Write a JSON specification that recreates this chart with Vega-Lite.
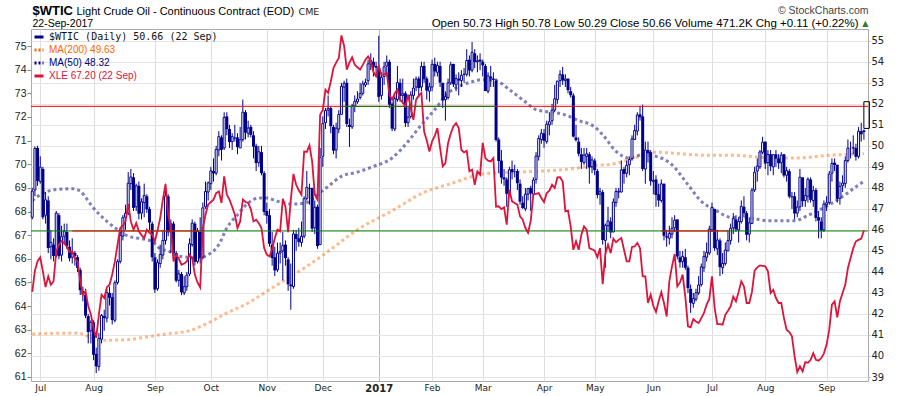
{
"$schema":"https://vega.github.io/schema/vega-lite/v6.json",
"width":837,"height":352,
"autosize":{"type":"none"},
"padding":{"left":31,"top":29,"right":32,"bottom":15},
"background":"white",
"config":{"view":{"stroke":"#a8a8a8"},"axis":{"labelOverlap":false,"labelSeparation":0}},
"datasets":{
"segG":[{"d1":"2016-12-12","d2":"2017-03-08","y":51.88}],
"segR":[{"d1":"2016-07-20","d2":"2016-09-27","y":45.95},{"d1":"2017-06-06","d2":"2017-07-12","y":45.95}],
"p":[
{"d":"2016-06-28","o":46.6,"h":48.0,"l":46.5,"c":47.85,"e":64.6,"a":47.39,"b":41.05},
{"d":"2016-06-29","o":47.9,"h":49.97,"l":47.6,"c":49.88,"e":65.5},
{"d":"2016-06-30","o":49.9,"h":50.0,"l":48.1,"c":48.33,"e":65.9},
{"d":"2016-07-01","o":48.3,"h":49.5,"l":48.2,"c":48.99,"e":66.06},
{"d":"2016-07-05","o":48.9,"h":49.0,"l":46.5,"c":46.6,"e":65.47},
{"d":"2016-07-06","o":46.7,"h":47.8,"l":46.3,"c":47.43,"e":64.8,"a":47.8},
{"d":"2016-07-07","o":47.4,"h":47.6,"l":44.9,"c":45.14,"e":65.26},
{"d":"2016-07-08","o":45.2,"h":46.0,"l":44.6,"c":45.41,"e":64.9},
{"d":"2016-07-11","o":45.3,"h":45.6,"l":44.5,"c":44.76,"e":65.05},
{"d":"2016-07-12","o":44.8,"h":46.9,"l":44.7,"c":46.8,"e":66.3},
{"d":"2016-07-13","o":46.7,"h":46.8,"l":44.6,"c":44.75,"e":66.6,"a":47.93,"b":41.08},
{"d":"2016-07-14","o":44.8,"h":46.2,"l":44.5,"c":45.68,"e":66.74},
{"d":"2016-07-15","o":45.7,"h":46.3,"l":45.3,"c":45.95,"e":66.67},
{"d":"2016-07-18","o":45.9,"h":46.3,"l":45.1,"c":45.24,"e":66.5},
{"d":"2016-07-19","o":45.2,"h":45.5,"l":44.5,"c":44.65,"e":66.29},
{"d":"2016-07-20","o":44.7,"h":45.6,"l":44.4,"c":44.94,"e":66.31,"a":47.96},
{"d":"2016-07-21","o":44.9,"h":45.0,"l":44.3,"c":44.75,"e":66.0},
{"d":"2016-07-22","o":44.7,"h":44.8,"l":44.0,"c":44.19,"e":65.89,"b":41.09},
{"d":"2016-07-25","o":44.1,"h":44.2,"l":42.9,"c":43.13,"e":65.05,"a":47.85},
{"d":"2016-07-26","o":43.1,"h":43.3,"l":42.6,"c":42.92,"e":64.48},
{"d":"2016-07-27","o":42.9,"h":43.2,"l":41.8,"c":41.92,"e":64.62,"a":47.55},
{"d":"2016-07-28","o":41.9,"h":42.0,"l":40.6,"c":41.14,"e":64.0},
{"d":"2016-07-29","o":41.2,"h":41.7,"l":40.6,"c":41.6,"e":63.64,"b":40.89},
{"d":"2016-08-01","o":41.6,"h":41.7,"l":39.8,"c":40.06,"e":63.07,"a":47.04},
{"d":"2016-08-02","o":40.1,"h":40.4,"l":39.19,"c":39.51,"e":62.65},
{"d":"2016-08-03","o":39.5,"h":41.1,"l":39.3,"c":40.83,"e":63.64},
{"d":"2016-08-04","o":40.8,"h":42.0,"l":40.6,"c":41.93,"e":64.48},
{"d":"2016-08-05","o":41.9,"h":42.2,"l":41.2,"c":41.8,"e":64.34,"b":40.75},
{"d":"2016-08-08","o":41.8,"h":43.2,"l":41.6,"c":43.02,"e":64.8,"a":46.41},
{"d":"2016-08-09","o":43.0,"h":43.3,"l":42.4,"c":42.77,"e":64.9},
{"d":"2016-08-10","o":42.8,"h":43.0,"l":41.5,"c":41.71,"e":65.33},
{"d":"2016-08-11","o":41.7,"h":43.6,"l":41.6,"c":43.49,"e":65.89},
{"d":"2016-08-12","o":43.5,"h":44.6,"l":43.4,"c":44.49,"e":66.6,"a":46.01},
{"d":"2016-08-15","o":44.5,"h":45.9,"l":44.4,"c":45.74,"e":67.3},
{"d":"2016-08-16","o":45.7,"h":46.7,"l":45.5,"c":46.58,"e":67.4},
{"d":"2016-08-17","o":46.6,"h":47.2,"l":46.0,"c":46.79,"e":67.58},
{"d":"2016-08-18","o":46.8,"h":48.75,"l":46.7,"c":48.22,"e":68.32,"a":45.7,"b":40.78},
{"d":"2016-08-19","o":48.2,"h":48.9,"l":47.9,"c":48.52,"e":67.58},
{"d":"2016-08-22","o":48.5,"h":48.7,"l":46.9,"c":47.05,"e":67.23},
{"d":"2016-08-23","o":47.1,"h":48.2,"l":46.9,"c":48.1,"e":67.51},
{"d":"2016-08-24","o":48.1,"h":48.3,"l":46.5,"c":46.77,"e":67.16},
{"d":"2016-08-25","o":46.8,"h":47.5,"l":46.5,"c":47.33,"e":67.0,"a":45.58},
{"d":"2016-08-26","o":47.3,"h":48.2,"l":46.6,"c":47.64,"e":66.88,"b":40.89},
{"d":"2016-08-29","o":47.6,"h":47.7,"l":46.8,"c":46.98,"e":67.23},
{"d":"2016-08-30","o":47.0,"h":47.1,"l":46.0,"c":46.35,"e":67.1},
{"d":"2016-08-31","o":46.3,"h":46.4,"l":44.5,"c":44.7,"e":67.02,"a":45.45},
{"d":"2016-09-01","o":44.7,"h":44.9,"l":43.0,"c":43.16,"e":66.74},
{"d":"2016-09-02","o":43.2,"h":44.6,"l":43.1,"c":44.44,"e":67.2},
{"d":"2016-09-06","o":44.4,"h":45.3,"l":44.2,"c":44.83,"e":67.72,"a":45.1,"b":41.01},
{"d":"2016-09-07","o":44.8,"h":46.0,"l":44.6,"c":45.5,"e":68.5},
{"d":"2016-09-08","o":45.5,"h":48.2,"l":45.3,"c":47.62,"e":69.16},
{"d":"2016-09-09","o":47.6,"h":47.7,"l":45.7,"c":45.88,"e":67.86,"a":45.0},
{"d":"2016-09-12","o":45.9,"h":46.5,"l":44.9,"c":46.29,"e":67.3},
{"d":"2016-09-13","o":46.3,"h":46.4,"l":44.6,"c":44.9,"e":65.89,"b":41.09},
{"d":"2016-09-14","o":44.9,"h":45.0,"l":43.5,"c":43.58,"e":66.17},
{"d":"2016-09-15","o":43.6,"h":44.1,"l":43.3,"c":43.91,"e":66.0,"a":44.75},
{"d":"2016-09-16","o":43.9,"h":44.0,"l":42.9,"c":43.03,"e":65.75},
{"d":"2016-09-19","o":43.0,"h":43.8,"l":42.9,"c":43.3,"e":65.8},
{"d":"2016-09-20","o":43.3,"h":44.0,"l":43.1,"c":43.85,"e":65.89,"b":41.17},
{"d":"2016-09-21","o":43.9,"h":45.6,"l":43.8,"c":45.34,"e":66.17},
{"d":"2016-09-22","o":45.3,"h":46.5,"l":45.2,"c":46.32,"e":66.03,"a":44.68},
{"d":"2016-09-23","o":46.3,"h":46.4,"l":44.3,"c":44.48,"e":65.33},
{"d":"2016-09-26","o":44.5,"h":46.1,"l":44.4,"c":45.93,"e":65.0,"a":44.66},
{"d":"2016-09-27","o":45.9,"h":46.6,"l":44.4,"c":44.67,"e":64.79},
{"d":"2016-09-28","o":44.7,"h":47.3,"l":44.6,"c":47.05,"e":67.3},
{"d":"2016-09-29","o":47.1,"h":48.3,"l":47.0,"c":47.83,"e":67.86},
{"d":"2016-09-30","o":47.8,"h":48.3,"l":47.4,"c":48.24,"e":68.3,"a":44.82,"b":41.57},
{"d":"2016-10-03","o":48.2,"h":49.0,"l":47.9,"c":48.81,"e":68.4},
{"d":"2016-10-04","o":48.8,"h":49.4,"l":48.3,"c":48.69,"e":68.5},
{"d":"2016-10-05","o":48.7,"h":50.0,"l":48.6,"c":49.83,"e":68.78},
{"d":"2016-10-06","o":49.8,"h":50.7,"l":49.5,"c":50.44,"e":68.85,"a":45.3},
{"d":"2016-10-07","o":50.4,"h":50.5,"l":49.3,"c":49.81,"e":68.36},
{"d":"2016-10-10","o":49.9,"h":51.6,"l":49.8,"c":51.35,"e":69.49},
{"d":"2016-10-11","o":51.4,"h":51.6,"l":50.5,"c":50.79,"e":68.71,"a":46.09,"b":42.05},
{"d":"2016-10-12","o":50.8,"h":51.0,"l":49.9,"c":50.18,"e":68.5},
{"d":"2016-10-13","o":50.2,"h":50.6,"l":49.8,"c":50.44,"e":68.2},
{"d":"2016-10-14","o":50.4,"h":51.0,"l":50.2,"c":50.35,"e":67.86},
{"d":"2016-10-17","o":50.4,"h":50.6,"l":49.6,"c":49.94,"e":67.3,"a":46.72},
{"d":"2016-10-18","o":49.9,"h":50.9,"l":49.9,"c":50.29,"e":67.58},
{"d":"2016-10-19","o":50.3,"h":52.2,"l":50.2,"c":51.6,"e":68.5},
{"d":"2016-10-20","o":51.6,"h":51.7,"l":50.3,"c":50.63,"e":68.4},
{"d":"2016-10-21","o":50.6,"h":51.2,"l":50.4,"c":50.85,"e":68.36,"a":47.28,"b":42.52},
{"d":"2016-10-24","o":50.9,"h":51.0,"l":50.4,"c":50.52,"e":68.1},
{"d":"2016-10-25","o":50.5,"h":50.7,"l":49.4,"c":49.96,"e":67.58},
{"d":"2016-10-26","o":50.0,"h":50.1,"l":48.8,"c":49.18,"e":67.65},
{"d":"2016-10-27","o":49.2,"h":50.0,"l":49.0,"c":49.72,"e":67.5,"a":47.52},
{"d":"2016-10-28","o":49.7,"h":50.0,"l":48.6,"c":48.7,"e":67.3},
{"d":"2016-10-31","o":48.7,"h":48.8,"l":46.7,"c":46.86,"e":66.45},
{"d":"2016-11-01","o":46.9,"h":47.3,"l":46.3,"c":46.67,"e":66.17,"a":47.52,"b":43.08},
{"d":"2016-11-02","o":46.7,"h":47.0,"l":45.2,"c":45.34,"e":66.1},
{"d":"2016-11-03","o":45.3,"h":45.9,"l":44.3,"c":44.66,"e":66.4},
{"d":"2016-11-04","o":44.7,"h":45.2,"l":43.8,"c":44.07,"e":66.88},
{"d":"2016-11-07","o":44.1,"h":45.4,"l":44.0,"c":44.89,"e":67.23,"a":47.36},
{"d":"2016-11-08","o":44.9,"h":45.4,"l":44.4,"c":44.98,"e":67.16},
{"d":"2016-11-09","o":45.0,"h":45.9,"l":43.6,"c":45.27,"e":68.54},
{"d":"2016-11-10","o":45.3,"h":45.5,"l":44.3,"c":44.66,"e":68.2},
{"d":"2016-11-11","o":44.6,"h":44.7,"l":43.1,"c":43.41,"e":67.13,"b":43.71},
{"d":"2016-11-14","o":43.4,"h":44.4,"l":42.2,"c":43.32,"e":68.5},
{"d":"2016-11-15","o":43.3,"h":46.0,"l":43.2,"c":45.81,"e":69.59,"a":47.23},
{"d":"2016-11-16","o":45.8,"h":46.0,"l":45.0,"c":45.57,"e":69.13},
{"d":"2016-11-17","o":45.6,"h":46.1,"l":45.2,"c":45.42,"e":68.9},
{"d":"2016-11-18","o":45.4,"h":46.4,"l":45.2,"c":45.69,"e":68.71},
{"d":"2016-11-21","o":45.7,"h":47.6,"l":45.6,"c":47.49,"e":70.54},
{"d":"2016-11-22","o":47.5,"h":48.8,"l":47.4,"c":48.03,"e":70.52,"a":47.3},
{"d":"2016-11-23","o":48.0,"h":48.2,"l":47.2,"c":47.96,"e":70.8,"b":44.35},
{"d":"2016-11-25","o":48.0,"h":48.0,"l":45.9,"c":46.06,"e":70.12},
{"d":"2016-11-28","o":46.1,"h":47.4,"l":45.8,"c":47.08,"e":68.71},
{"d":"2016-11-29","o":47.1,"h":47.2,"l":45.1,"c":45.23,"e":68.5,"a":47.68},
{"d":"2016-11-30","o":45.3,"h":49.9,"l":45.3,"c":49.44,"e":72.09},
{"d":"2016-12-01","o":49.5,"h":51.4,"l":49.0,"c":51.06,"e":72.3},
{"d":"2016-12-02","o":51.1,"h":51.8,"l":50.8,"c":51.68,"e":73.15},
{"d":"2016-12-05","o":51.7,"h":52.4,"l":51.4,"c":51.79,"e":73.01,"a":48.07,"b":44.98},
{"d":"2016-12-06","o":51.8,"h":51.9,"l":50.6,"c":50.93,"e":73.5},
{"d":"2016-12-07","o":50.9,"h":51.0,"l":49.6,"c":49.77,"e":74.07},
{"d":"2016-12-08","o":49.8,"h":51.1,"l":49.4,"c":50.84,"e":74.3},
{"d":"2016-12-09","o":50.8,"h":51.7,"l":50.6,"c":51.5,"e":74.49},
{"d":"2016-12-12","o":51.5,"h":53.0,"l":51.5,"c":52.83,"e":75.45,"a":48.55},
{"d":"2016-12-13","o":52.8,"h":53.1,"l":52.1,"c":52.98,"e":75.0},
{"d":"2016-12-14","o":53.0,"h":53.2,"l":50.9,"c":51.04,"e":74.0},
{"d":"2016-12-15","o":51.0,"h":51.3,"l":49.95,"c":50.9,"e":74.3},
{"d":"2016-12-16","o":50.9,"h":52.0,"l":50.8,"c":51.9,"e":74.52},
{"d":"2016-12-19","o":51.9,"h":52.4,"l":51.6,"c":52.12,"e":74.21},
{"d":"2016-12-20","o":52.1,"h":52.6,"l":52.0,"c":52.23,"e":74.1,"a":48.75,"b":46.01},
{"d":"2016-12-21","o":52.3,"h":53.0,"l":52.2,"c":52.49,"e":74.0},
{"d":"2016-12-22","o":52.5,"h":53.1,"l":52.4,"c":52.95,"e":74.2},
{"d":"2016-12-23","o":52.9,"h":53.2,"l":52.8,"c":53.02,"e":74.42},
{"d":"2016-12-27","o":53.1,"h":54.1,"l":52.9,"c":53.9,"e":74.56},
{"d":"2016-12-28","o":53.9,"h":54.4,"l":53.6,"c":54.06,"e":74.35},
{"d":"2016-12-29","o":54.0,"h":54.2,"l":53.3,"c":53.77,"e":73.9,"a":49.02},
{"d":"2016-12-30","o":53.8,"h":54.0,"l":53.4,"c":53.72,"e":73.72},
{"d":"2017-01-03","o":53.7,"h":55.24,"l":52.1,"c":52.33,"e":74.14},
{"d":"2017-01-04","o":52.4,"h":53.5,"l":52.2,"c":53.26,"e":73.79},
{"d":"2017-01-05","o":53.3,"h":54.0,"l":52.9,"c":53.76,"e":73.8},
{"d":"2017-01-06","o":53.8,"h":54.3,"l":53.3,"c":53.99,"e":73.86},
{"d":"2017-01-09","o":54.0,"h":54.1,"l":51.8,"c":51.96,"e":72.94},
{"d":"2017-01-10","o":52.0,"h":52.1,"l":50.7,"c":50.82,"e":72.73,"a":49.42,"b":46.91},
{"d":"2017-01-11","o":50.8,"h":52.4,"l":50.7,"c":52.25,"e":73.0},
{"d":"2017-01-12","o":52.2,"h":53.8,"l":52.1,"c":53.01,"e":73.15},
{"d":"2017-01-13","o":53.0,"h":53.2,"l":52.1,"c":52.37,"e":72.73},
{"d":"2017-01-17","o":52.4,"h":53.2,"l":52.0,"c":52.48,"e":72.6},
{"d":"2017-01-18","o":52.5,"h":52.6,"l":50.9,"c":51.08,"e":72.45},
{"d":"2017-01-19","o":51.1,"h":51.9,"l":50.9,"c":51.37,"e":72.94,"a":50.21},
{"d":"2017-01-20","o":51.4,"h":52.6,"l":51.3,"c":52.42,"e":72.38},
{"d":"2017-01-23","o":52.4,"h":53.2,"l":52.2,"c":52.75,"e":71.88},
{"d":"2017-01-24","o":52.8,"h":53.3,"l":52.6,"c":53.18,"e":72.73},
{"d":"2017-01-25","o":53.2,"h":53.3,"l":52.3,"c":52.75,"e":72.9},
{"d":"2017-01-26","o":52.8,"h":54.0,"l":52.6,"c":53.78,"e":73.01,"a":51.0},
{"d":"2017-01-27","o":53.8,"h":54.0,"l":53.0,"c":53.17,"e":71.39,"b":47.79},
{"d":"2017-01-30","o":53.2,"h":53.3,"l":52.2,"c":52.63,"e":71.0},
{"d":"2017-01-31","o":52.6,"h":53.0,"l":52.1,"c":52.81,"e":70.54},
{"d":"2017-02-01","o":52.8,"h":54.1,"l":52.6,"c":53.88,"e":70.97},
{"d":"2017-02-02","o":53.9,"h":54.2,"l":53.3,"c":53.54,"e":71.2,"a":51.72},
{"d":"2017-02-03","o":53.5,"h":54.0,"l":53.3,"c":53.83,"e":71.53},
{"d":"2017-02-06","o":53.8,"h":54.0,"l":52.8,"c":53.01,"e":70.69},
{"d":"2017-02-07","o":53.0,"h":53.0,"l":51.8,"c":52.17,"e":69.91},
{"d":"2017-02-08","o":52.2,"h":52.6,"l":51.2,"c":52.34,"e":70.05},
{"d":"2017-02-09","o":52.3,"h":53.2,"l":52.2,"c":53.0,"e":70.9,"a":52.51},
{"d":"2017-02-10","o":53.0,"h":54.0,"l":52.9,"c":53.86,"e":71.3,"b":48.2},
{"d":"2017-02-13","o":53.9,"h":53.9,"l":52.8,"c":52.93,"e":71.6},
{"d":"2017-02-14","o":52.9,"h":53.4,"l":52.6,"c":53.2,"e":71.74},
{"d":"2017-02-15","o":53.2,"h":53.5,"l":52.4,"c":53.11,"e":71.53},
{"d":"2017-02-16","o":53.1,"h":53.6,"l":52.8,"c":53.36,"e":70.6,"a":52.88},
{"d":"2017-02-17","o":53.4,"h":53.7,"l":53.0,"c":53.4,"e":70.5},
{"d":"2017-02-21","o":53.4,"h":54.6,"l":53.3,"c":54.06,"e":70.57},
{"d":"2017-02-22","o":54.1,"h":54.3,"l":53.3,"c":53.59,"e":69.7},
{"d":"2017-02-23","o":53.6,"h":54.94,"l":53.5,"c":54.45,"e":69.77,"a":53.05},
{"d":"2017-02-24","o":54.4,"h":54.6,"l":53.7,"c":53.99,"e":69.13},
{"d":"2017-02-27","o":54.0,"h":54.3,"l":53.5,"c":54.05,"e":69.7},
{"d":"2017-02-28","o":54.1,"h":54.4,"l":53.6,"c":54.01,"e":69.56},
{"d":"2017-03-01","o":54.0,"h":54.1,"l":53.3,"c":53.83,"e":70.9,"a":53.15,"b":48.66},
{"d":"2017-03-02","o":53.8,"h":53.9,"l":52.6,"c":52.61,"e":70.26},
{"d":"2017-03-03","o":52.6,"h":53.5,"l":52.5,"c":53.33,"e":70.15},
{"d":"2017-03-06","o":53.3,"h":53.8,"l":52.8,"c":53.2,"e":70.12},
{"d":"2017-03-07","o":53.2,"h":53.5,"l":52.8,"c":53.14,"e":70.26},
{"d":"2017-03-08","o":53.1,"h":53.2,"l":50.2,"c":50.28,"e":68.2,"a":53.1},
{"d":"2017-03-09","o":50.3,"h":50.4,"l":48.7,"c":49.28,"e":68.22},
{"d":"2017-03-10","o":49.3,"h":49.8,"l":48.2,"c":48.49,"e":68.1},
{"d":"2017-03-13","o":48.5,"h":48.9,"l":48.1,"c":48.4,"e":68.18},
{"d":"2017-03-14","o":48.4,"h":48.5,"l":47.1,"c":47.72,"e":67.44},
{"d":"2017-03-15","o":47.7,"h":49.0,"l":47.6,"c":48.86,"e":68.92,"a":52.67},
{"d":"2017-03-16","o":48.9,"h":49.3,"l":48.4,"c":48.75,"e":68.43},
{"d":"2017-03-17","o":48.8,"h":49.1,"l":48.5,"c":48.78,"e":68.36,"b":48.75},
{"d":"2017-03-20","o":48.8,"h":48.9,"l":47.9,"c":48.22,"e":68.29},
{"d":"2017-03-21","o":48.2,"h":48.4,"l":47.2,"c":47.34,"e":67.79},
{"d":"2017-03-22","o":47.3,"h":47.6,"l":47.0,"c":47.04,"e":67.65,"a":52.19},
{"d":"2017-03-23","o":47.0,"h":48.0,"l":46.9,"c":47.7,"e":67.3},
{"d":"2017-03-24","o":47.7,"h":48.0,"l":47.4,"c":47.97,"e":67.1},
{"d":"2017-03-27","o":48.0,"h":48.1,"l":46.9,"c":47.73,"e":67.6},
{"d":"2017-03-28","o":47.7,"h":48.5,"l":47.6,"c":48.37,"e":68.71},
{"d":"2017-03-29","o":48.4,"h":49.7,"l":48.2,"c":49.51,"e":68.75,"a":51.72},
{"d":"2017-03-30","o":49.5,"h":50.5,"l":49.3,"c":50.35,"e":68.78},
{"d":"2017-03-31","o":50.3,"h":50.8,"l":50.1,"c":50.6,"e":68.57},
{"d":"2017-04-03","o":50.6,"h":50.8,"l":49.9,"c":50.24,"e":68.4},
{"d":"2017-04-04","o":50.2,"h":51.2,"l":50.1,"c":51.03,"e":68.78},
{"d":"2017-04-05","o":51.0,"h":51.6,"l":50.5,"c":51.15,"e":68.88,"a":51.61,"b":48.82},
{"d":"2017-04-06","o":51.2,"h":52.0,"l":51.0,"c":51.7,"e":69.13},
{"d":"2017-04-07","o":51.7,"h":52.9,"l":51.6,"c":52.24,"e":68.99},
{"d":"2017-04-10","o":52.2,"h":53.1,"l":52.0,"c":53.08,"e":69.44},
{"d":"2017-04-11","o":53.1,"h":53.6,"l":52.8,"c":53.4,"e":69.45},
{"d":"2017-04-12","o":53.4,"h":53.76,"l":52.9,"c":53.11,"e":69.27,"a":51.51},
{"d":"2017-04-13","o":53.1,"h":53.4,"l":52.8,"c":53.18,"e":68.01},
{"d":"2017-04-17","o":53.2,"h":53.2,"l":52.5,"c":52.65,"e":68.04},
{"d":"2017-04-18","o":52.6,"h":52.8,"l":52.3,"c":52.41,"e":67.37},
{"d":"2017-04-19","o":52.4,"h":52.5,"l":50.4,"c":50.44,"e":66.38},
{"d":"2017-04-20","o":50.4,"h":51.0,"l":50.2,"c":50.27,"e":66.74},
{"d":"2017-04-21","o":50.2,"h":50.4,"l":49.5,"c":49.62,"e":66.38,"b":48.95},
{"d":"2017-04-24","o":49.6,"h":49.9,"l":48.9,"c":49.23,"e":67.02,"a":51.16},
{"d":"2017-04-25","o":49.2,"h":49.9,"l":49.1,"c":49.56,"e":67.37},
{"d":"2017-04-26","o":49.5,"h":49.9,"l":48.9,"c":49.62,"e":67.23},
{"d":"2017-04-27","o":49.6,"h":49.7,"l":48.2,"c":48.97,"e":66.45,"a":51.05},
{"d":"2017-04-28","o":49.0,"h":49.5,"l":48.7,"c":49.33,"e":66.4},
{"d":"2017-05-01","o":49.3,"h":49.4,"l":48.6,"c":48.84,"e":66.34,"a":50.9,"b":49.07},
{"d":"2017-05-02","o":48.8,"h":48.9,"l":47.5,"c":47.66,"e":66.06},
{"d":"2017-05-03","o":47.7,"h":48.0,"l":47.2,"c":47.82,"e":66.45},
{"d":"2017-05-04","o":47.8,"h":47.9,"l":45.3,"c":45.52,"e":64.93,"a":50.53},
{"d":"2017-05-05","o":45.5,"h":46.3,"l":44.2,"c":46.22,"e":66.2},
{"d":"2017-05-08","o":46.2,"h":47.1,"l":45.9,"c":46.43,"e":66.6,"b":49.1},
{"d":"2017-05-09","o":46.4,"h":46.6,"l":45.6,"c":45.88,"e":66.24},
{"d":"2017-05-10","o":45.9,"h":47.5,"l":45.9,"c":47.33,"e":66.85},
{"d":"2017-05-11","o":47.3,"h":48.0,"l":47.1,"c":47.83,"e":66.7,"a":49.74},
{"d":"2017-05-12","o":47.8,"h":48.0,"l":47.5,"c":47.84,"e":66.8},
{"d":"2017-05-15","o":47.8,"h":49.3,"l":47.8,"c":48.85,"e":66.88},
{"d":"2017-05-16","o":48.9,"h":49.0,"l":48.2,"c":48.66,"e":66.38},
{"d":"2017-05-17","o":48.7,"h":49.3,"l":48.5,"c":49.07,"e":65.89},
{"d":"2017-05-18","o":49.1,"h":49.5,"l":48.6,"c":49.35,"e":65.89,"a":49.42,"b":49.34},
{"d":"2017-05-19","o":49.4,"h":50.5,"l":49.3,"c":50.33,"e":66.5},
{"d":"2017-05-22","o":50.3,"h":51.0,"l":50.3,"c":50.73,"e":66.52},
{"d":"2017-05-23","o":50.7,"h":51.6,"l":50.5,"c":51.47,"e":66.67},
{"d":"2017-05-24","o":51.5,"h":51.9,"l":51.2,"c":51.36,"e":66.45},
{"d":"2017-05-25","o":51.4,"h":51.96,"l":48.8,"c":48.9,"e":65.26,"a":49.58},
{"d":"2017-05-26","o":48.9,"h":50.2,"l":48.2,"c":49.8,"e":65.26},
{"d":"2017-05-30","o":49.8,"h":50.2,"l":49.2,"c":49.66,"e":64.13},
{"d":"2017-05-31","o":49.7,"h":49.8,"l":48.1,"c":48.32,"e":64.48},
{"d":"2017-06-01","o":48.3,"h":48.8,"l":47.7,"c":48.36,"e":64.0},
{"d":"2017-06-02","o":48.4,"h":48.6,"l":47.1,"c":47.66,"e":63.75,"a":49.5,"b":49.7},
{"d":"2017-06-05","o":47.7,"h":48.2,"l":47.1,"c":47.4,"e":64.2},
{"d":"2017-06-06","o":47.4,"h":48.4,"l":47.3,"c":48.19,"e":64.59},
{"d":"2017-06-07","o":48.2,"h":48.2,"l":45.5,"c":45.72,"e":64.13},
{"d":"2017-06-08","o":45.7,"h":46.0,"l":45.2,"c":45.64,"e":63.56},
{"d":"2017-06-09","o":45.6,"h":46.2,"l":45.3,"c":45.83,"e":65.05},
{"d":"2017-06-12","o":45.8,"h":46.6,"l":45.6,"c":46.08,"e":65.68,"a":49.1},
{"d":"2017-06-13","o":46.1,"h":46.7,"l":45.9,"c":46.46,"e":66.2},
{"d":"2017-06-14","o":46.5,"h":46.5,"l":44.6,"c":44.73,"e":64.83},
{"d":"2017-06-15","o":44.7,"h":45.0,"l":44.2,"c":44.46,"e":65.0},
{"d":"2017-06-16","o":44.5,"h":45.0,"l":44.2,"c":44.74,"e":65.33,"b":49.61},
{"d":"2017-06-19","o":44.7,"h":45.1,"l":44.1,"c":44.2,"e":64.4},
{"d":"2017-06-20","o":44.2,"h":44.3,"l":43.0,"c":43.23,"e":63.14,"a":48.15},
{"d":"2017-06-21","o":43.2,"h":43.4,"l":42.05,"c":42.53,"e":63.1},
{"d":"2017-06-22","o":42.5,"h":43.0,"l":42.3,"c":42.74,"e":63.45},
{"d":"2017-06-23","o":42.7,"h":43.2,"l":42.6,"c":43.01,"e":63.35},
{"d":"2017-06-26","o":43.0,"h":43.8,"l":42.9,"c":43.38,"e":63.28},
{"d":"2017-06-27","o":43.4,"h":44.4,"l":43.3,"c":44.24,"e":63.49,"a":47.36},
{"d":"2017-06-28","o":44.2,"h":45.0,"l":44.0,"c":44.74,"e":63.71},
{"d":"2017-06-29","o":44.7,"h":45.4,"l":44.5,"c":44.93,"e":64.06,"b":49.55},
{"d":"2017-06-30","o":44.9,"h":46.2,"l":44.8,"c":46.04,"e":64.3},
{"d":"2017-07-03","o":46.0,"h":47.3,"l":45.9,"c":47.07,"e":65.26},
{"d":"2017-07-05","o":47.0,"h":47.0,"l":45.0,"c":45.13,"e":63.92,"a":46.96},
{"d":"2017-07-06","o":45.1,"h":46.0,"l":44.8,"c":45.52,"e":63.24},
{"d":"2017-07-07","o":45.5,"h":45.6,"l":43.8,"c":44.23,"e":63.24},
{"d":"2017-07-10","o":44.2,"h":44.9,"l":43.9,"c":44.4,"e":63.21},
{"d":"2017-07-11","o":44.4,"h":45.4,"l":44.3,"c":45.04,"e":63.63},
{"d":"2017-07-12","o":45.0,"h":46.0,"l":45.0,"c":45.49,"e":63.8},
{"d":"2017-07-13","o":45.5,"h":46.3,"l":45.3,"c":46.08,"e":63.99,"a":46.6},
{"d":"2017-07-14","o":46.1,"h":46.8,"l":45.8,"c":46.54,"e":64.4,"b":49.55},
{"d":"2017-07-17","o":46.5,"h":46.7,"l":45.9,"c":46.02,"e":64.2},
{"d":"2017-07-18","o":46.0,"h":46.6,"l":45.4,"c":46.4,"e":64.6},
{"d":"2017-07-19","o":46.4,"h":47.4,"l":46.3,"c":47.12,"e":65.05},
{"d":"2017-07-20","o":47.1,"h":47.6,"l":46.6,"c":46.79,"e":64.83},
{"d":"2017-07-21","o":46.8,"h":46.9,"l":45.5,"c":45.77,"e":64.13},
{"d":"2017-07-24","o":45.8,"h":46.6,"l":45.4,"c":46.34,"e":64.13,"a":46.57},
{"d":"2017-07-25","o":46.3,"h":48.0,"l":46.3,"c":47.89,"e":64.6},
{"d":"2017-07-26","o":47.9,"h":49.0,"l":47.8,"c":48.75,"e":65.5},
{"d":"2017-07-27","o":48.8,"h":49.4,"l":48.3,"c":49.04,"e":65.64},
{"d":"2017-07-28","o":49.0,"h":49.8,"l":48.9,"c":49.71,"e":65.72},
{"d":"2017-07-31","o":49.7,"h":50.43,"l":49.6,"c":50.17,"e":65.7,"b":49.45},
{"d":"2017-08-01","o":50.2,"h":50.2,"l":48.9,"c":49.16,"e":65.68},
{"d":"2017-08-02","o":49.2,"h":49.8,"l":48.6,"c":49.59,"e":65.47,"a":46.44},
{"d":"2017-08-03","o":49.6,"h":49.8,"l":48.8,"c":49.03,"e":64.55},
{"d":"2017-08-04","o":49.0,"h":49.6,"l":48.6,"c":49.58,"e":64.69},
{"d":"2017-08-07","o":49.6,"h":49.8,"l":49.0,"c":49.39,"e":64.34},
{"d":"2017-08-08","o":49.4,"h":49.6,"l":48.9,"c":49.17,"e":64.13},
{"d":"2017-08-09","o":49.2,"h":49.7,"l":48.7,"c":49.56,"e":64.13},
{"d":"2017-08-10","o":49.6,"h":49.6,"l":48.5,"c":48.59,"e":63.49},
{"d":"2017-08-11","o":48.6,"h":49.0,"l":48.3,"c":48.82,"e":63.0},
{"d":"2017-08-14","o":48.8,"h":48.9,"l":47.5,"c":47.59,"e":62.9},
{"d":"2017-08-15","o":47.6,"h":47.8,"l":47.0,"c":47.55,"e":62.72},
{"d":"2017-08-16","o":47.6,"h":47.8,"l":46.5,"c":46.78,"e":61.87,"a":46.44},
{"d":"2017-08-17","o":46.8,"h":47.4,"l":46.6,"c":47.09,"e":61.21,"b":49.42},
{"d":"2017-08-18","o":47.1,"h":48.9,"l":46.9,"c":48.51,"e":61.45},
{"d":"2017-08-21","o":48.5,"h":48.5,"l":47.1,"c":47.37,"e":61.24},
{"d":"2017-08-22","o":47.4,"h":48.0,"l":47.1,"c":47.64,"e":61.63},
{"d":"2017-08-23","o":47.6,"h":48.5,"l":47.3,"c":48.41,"e":61.6,"a":46.69},
{"d":"2017-08-24","o":48.4,"h":48.5,"l":47.3,"c":47.43,"e":61.73},
{"d":"2017-08-25","o":47.4,"h":48.1,"l":47.1,"c":47.87,"e":62.01},
{"d":"2017-08-28","o":47.9,"h":48.0,"l":46.4,"c":46.57,"e":61.73},
{"d":"2017-08-29","o":46.6,"h":46.9,"l":45.6,"c":46.44,"e":61.69},
{"d":"2017-08-30","o":46.4,"h":46.6,"l":45.6,"c":45.96,"e":61.8},
{"d":"2017-08-31","o":46.0,"h":47.4,"l":45.9,"c":47.23,"e":62.0},
{"d":"2017-09-01","o":47.2,"h":47.6,"l":46.9,"c":47.29,"e":62.37},
{"d":"2017-09-05","o":47.3,"h":48.8,"l":47.2,"c":48.66,"e":63.0,"a":47.2,"b":49.55},
{"d":"2017-09-06","o":48.7,"h":49.4,"l":48.3,"c":49.16,"e":64.06},
{"d":"2017-09-07","o":49.2,"h":49.4,"l":48.8,"c":49.09,"e":64.2},
{"d":"2017-09-08","o":49.1,"h":49.1,"l":47.3,"c":47.48,"e":63.52},
{"d":"2017-09-11","o":47.5,"h":48.3,"l":47.2,"c":48.07,"e":64.2},
{"d":"2017-09-12","o":48.1,"h":48.6,"l":47.8,"c":48.23,"e":64.55},
{"d":"2017-09-13","o":48.2,"h":49.5,"l":48.0,"c":49.3,"e":64.9,"a":47.68},
{"d":"2017-09-14","o":49.3,"h":50.3,"l":49.2,"c":49.89,"e":65.61},
{"d":"2017-09-15","o":49.9,"h":50.2,"l":49.4,"c":49.89,"e":66.03,"b":49.6},
{"d":"2017-09-18","o":49.9,"h":50.5,"l":49.6,"c":49.91,"e":66.45},
{"d":"2017-09-19","o":49.9,"h":50.1,"l":49.3,"c":49.48,"e":66.74,"a":48.05},
{"d":"2017-09-20","o":49.5,"h":50.9,"l":49.4,"c":50.69,"e":66.8},
{"d":"2017-09-21","o":50.7,"h":51.1,"l":50.2,"c":50.55,"e":66.85},
{"d":"2017-09-22","o":50.73,"h":50.78,"l":50.29,"c":50.66,"e":67.2,"a":48.32,"b":49.63}
]},
"resolve":{"scale":{"y":"independent"},"axis":{"x":"independent"}},
"layer":[
{
"resolve":{"axis":{"x":"independent"}},
"layer":[
{"data":{"name":"p"},"transform":[{"filter":"isValid(datum.b)"}],
 "mark":{"type":"line","strokeWidth":3,"strokeDash":[3,3],"strokeOpacity":0.45,"interpolate":"monotone"},
 "encoding":{
  "x":{"field":"d","type":"ordinal","scale":{"type":"point","padding":1.39,"align":0.233},
   "axis":{"orient":"top","labels":false,"ticks":false,"domain":false,"grid":false,"title":"$WTIC","titleX":1,"titleY":-15,"titleAlign":"left","titleBaseline":"alphabetic","titleAngle":0,"titleFont":"Liberation Sans","titleFontSize":13,"titleFontWeight":"bold","titleColor":"#000000"}},
  "y":{"field":"b","type":"quantitative","scale":{"domain":[38.81,55.56],"nice":false,"zero":false},
   "axis":{"orient":"right","values":[39,40,41,42,43,44,45,46,47,48,49,50,51,52,53,54,55],"tickCount":40,"format":"d","labelOverlap":false,"labelSeparation":0,"labelBound":false,"grid":true,"gridColor":"#e4e4e4","ticks":true,"tickSize":2,"tickColor":"#bbbbbb","domain":false,"labelPadding":1,"labelFont":"DejaVu Sans","labelFontSize":10,"labelColor":"#222222","title":null}},
  "color":{"datum":"MA(200) 49.63","type":"nominal"}}},
{"data":{"name":"p"},"transform":[{"filter":"isValid(datum.a)"}],
 "mark":{"type":"line","strokeWidth":3,"strokeDash":[3,3],"strokeOpacity":0.5,"interpolate":"monotone"},
 "encoding":{
  "x":{"field":"d","type":"ordinal","scale":{"type":"point","padding":1.39,"align":0.233},
   "axis":{"orient":"top","labels":false,"ticks":false,"domain":false,"grid":false,"title":"Light Crude Oil - Continuous Contract (EOD)","titleX":45,"titleY":-15,"titleAlign":"left","titleBaseline":"alphabetic","titleAngle":0,"titleFont":"Liberation Sans","titleFontSize":11,"titleFontWeight":"normal","titleColor":"#000000"}},
  "y":{"field":"a","type":"quantitative","scale":{"domain":[38.81,55.56],"nice":false,"zero":false}},
  "color":{"datum":"MA(50) 48.32","type":"nominal"}}},
{"data":{"name":"p"},
 "mark":{"type":"rule","strokeWidth":1},
 "encoding":{
  "x":{"field":"d","type":"ordinal","scale":{"type":"point","padding":1.39,"align":0.233},
   "axis":{"orient":"bottom","values":["2016-07-01","2016-08-01","2016-09-01","2016-10-03","2016-11-01","2016-12-01","2017-01-03","2017-02-01","2017-03-01","2017-04-03","2017-05-01","2017-06-01","2017-07-03","2017-08-01","2017-09-01"],
    "labelExpr":"datum.value == '2017-01-03' ? '2017' : ['Jan','Feb','Mar','Apr','May','Jun','Jul','Aug','Sep','Oct','Nov','Dec'][toNumber(substring(datum.value,5,7))-1]",
    "labelOverlap":false,"labelAngle":0,"grid":true,
    "gridColor":{"condition":{"test":"datum.value == '2017-01-03'","value":"#b8b8b8"},"value":"#dedede"},
    "ticks":false,"domain":false,"labelPadding":2,"labelFont":"DejaVu Sans","labelFontSize":{"condition":{"test":"datum.value == '2017-01-03'","value":10},"value":9},"labelColor":"#222222",
    "labelFontWeight":{"condition":{"test":"datum.value == '2017-01-03'","value":"bold"},"value":"normal"},"title":null}},
  "y":{"field":"l","type":"quantitative","scale":{"domain":[38.81,55.56],"nice":false,"zero":false}},
  "y2":{"field":"h"},
  "color":{"datum":"$WTIC (Daily) 50.66 (22 Sep)","type":"nominal",
   "scale":{"domain":["$WTIC (Daily) 50.66 (22 Sep)","MA(200) 49.63","MA(50) 48.32","XLE 67.20 (22 Sep)"],"range":["#00008b","#ff6600","#000080","#dc143c"]},
   "legend":{"title":null,"orient":"top-left","offset":1,"padding":1,"rowPadding":1,"labelOffset":4,"symbolType":"stroke","symbolSize":81,"symbolStrokeWidth":3,"symbolOpacity":1,
    "symbolDash":{"expr":"slice(datum.value,0,2) == 'MA' ? [2,2] : []"},
    "labelFontSize":10,
    "labelFont":{"expr":"slice(datum.value,0,1) == '$' ? 'DejaVu Sans Mono' : 'Liberation Sans'"},
    "labelColor":{"expr":"datum.value == 'MA(200) 49.63' ? '#ff6600' : datum.value == 'MA(50) 48.32' ? '#000080' : datum.value == 'XLE 67.20 (22 Sep)' ? '#dc143c' : '#111111'"},
    "labelLimit":400}}}},
{"data":{"name":"p"},"transform":[{"filter":"datum.c < datum.o"}],
 "mark":{"type":"bar","size":3,"fill":"#00008b"},
 "encoding":{
  "x":{"field":"d","type":"ordinal","scale":{"type":"point","padding":1.39,"align":0.233},
   "axis":{"orient":"top","labels":false,"ticks":false,"domain":false,"grid":false,"title":"Open 50.73  High 50.78  Low 50.29  Close 50.66  Volume 471.2K  Chg +0.11 (+0.22%)","titleX":827,"titleY":-3,"titleAlign":"right","titleBaseline":"alphabetic","titleAngle":0,"titleFont":"Liberation Sans","titleFontSize":11.5,"titleFontWeight":"normal","titleColor":"#000000"}},
  "y":{"field":"o","type":"quantitative","scale":{"domain":[38.81,55.56],"nice":false,"zero":false}},
  "y2":{"field":"c"}}},
{"data":{"name":"p"},"transform":[{"filter":"datum.c >= datum.o"}],
 "mark":{"type":"bar","size":2,"fill":"white","stroke":"#00008b","strokeWidth":1},
 "encoding":{
  "x":{"field":"d","type":"ordinal","scale":{"type":"point","padding":1.39,"align":0.233},
   "axis":{"orient":"top","labels":false,"ticks":false,"domain":false,"grid":false,"title":"© StockCharts.com","titleX":837,"titleY":-16,"titleAlign":"right","titleBaseline":"alphabetic","titleAngle":0,"titleFont":"Liberation Sans","titleFontSize":10.5,"titleFontWeight":"normal","titleColor":"#444444"}},
  "y":{"field":"o","type":"quantitative","scale":{"domain":[38.81,55.56],"nice":false,"zero":false}},
  "y2":{"field":"c"}}},
{"data":{"values":[{"y":51.88}]},
 "mark":{"type":"rule","color":"#ff0000","strokeWidth":1},
 "encoding":{"y":{"field":"y","type":"quantitative","scale":{"domain":[38.81,55.56],"nice":false,"zero":false}}}},
{"data":{"name":"segG"},
 "mark":{"type":"rule","color":"#008000","strokeWidth":1},
 "encoding":{
  "x":{"field":"d1","type":"ordinal","scale":{"type":"point","padding":1.39,"align":0.233},
   "axis":{"orient":"top","labels":false,"ticks":false,"domain":false,"grid":false,"title":"CME","titleX":267,"titleY":-15,"titleAlign":"left","titleBaseline":"alphabetic","titleAngle":0,"titleFont":"DejaVu Sans","titleFontSize":9.5,"titleFontWeight":"normal","titleColor":"#222222"}},
  "x2":{"field":"d2"},
  "y":{"field":"y","type":"quantitative","scale":{"domain":[38.81,55.56],"nice":false,"zero":false}}}},
{"data":{"values":[{"y":45.95}]},
 "mark":{"type":"rule","color":"#008000","strokeWidth":1},
 "encoding":{"y":{"field":"y","type":"quantitative","scale":{"domain":[38.81,55.56],"nice":false,"zero":false}}}},
{"data":{"name":"segR"},
 "mark":{"type":"rule","color":"#ff0000","strokeWidth":1},
 "encoding":{
  "x":{"field":"d1","type":"ordinal","scale":{"type":"point","padding":1.39,"align":0.233},
   "axis":{"orient":"top","labels":false,"ticks":false,"domain":false,"grid":false,"title":"22-Sep-2017","titleX":1,"titleY":-3,"titleAlign":"left","titleBaseline":"alphabetic","titleAngle":0,"titleFont":"Liberation Sans","titleFontSize":10.5,"titleFontWeight":"normal","titleColor":"#000000"}},
  "x2":{"field":"d2"},
  "y":{"field":"y","type":"quantitative","scale":{"domain":[38.81,55.56],"nice":false,"zero":false}}}},
{"data":{"values":[{"d":"2017-09-22","lo":50.83,"hi":52.1}]},
 "mark":{"type":"bar","size":5.5,"xOffset":2.7,"fill":"white","fillOpacity":0,"stroke":"#000000","strokeWidth":1},
 "encoding":{
  "x":{"field":"d","type":"ordinal","scale":{"type":"point","padding":1.39,"align":0.233},
   "axis":{"orient":"top","labels":false,"ticks":false,"domain":false,"grid":false,"title":"▲","titleX":837,"titleY":-4,"titleAlign":"right","titleBaseline":"alphabetic","titleAngle":0,"titleFont":"DejaVu Sans","titleFontSize":8,"titleFontWeight":"normal","titleColor":"#2e7d32"}},
  "y":{"field":"lo","type":"quantitative","scale":{"domain":[38.81,55.56],"nice":false,"zero":false}},
  "y2":{"field":"hi"}}}
]},
{"data":{"name":"p"},
 "mark":{"type":"line","strokeWidth":1.8},
 "encoding":{
  "x":{"field":"d","type":"ordinal","scale":{"type":"point","padding":1.39,"align":0.233},"axis":null},
  "y":{"field":"e","type":"quantitative","scale":{"domain":[60.83,75.72],"nice":false,"zero":false},
   "axis":{"orient":"left","values":[61,62,63,64,65,66,67,68,69,70,71,72,73,74,75],"tickCount":40,"format":"d","labelOverlap":false,"grid":false,"ticks":true,"tickSize":4,"tickColor":"#888888","domain":false,"labelPadding":1,"labelFont":"Liberation Sans","labelFontSize":10.5,"labelColor":"#222222","title":null}},
  "color":{"datum":"XLE 67.20 (22 Sep)","type":"nominal"}}}
]
}
